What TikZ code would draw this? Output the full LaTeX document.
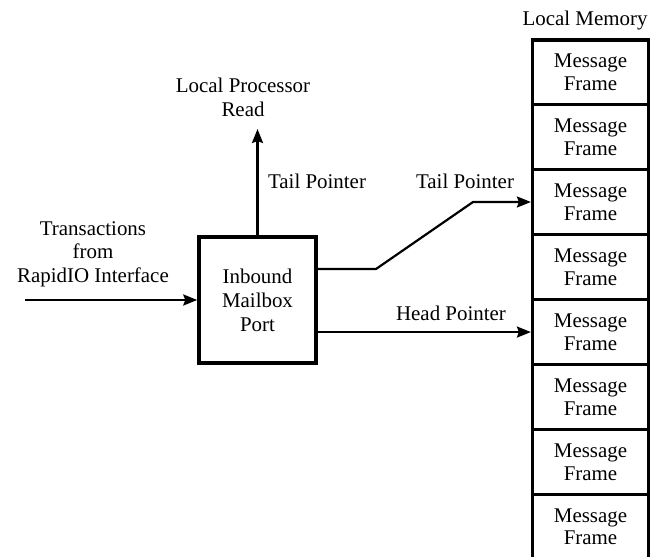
\documentclass[tikz,border=0pt]{standalone}
\usepackage{fontspec}
\setmainfont{Liberation Serif}
\usetikzlibrary{arrows.meta}
\begin{document}
\begin{tikzpicture}[x=1bp,y=-1bp,
  lbl/.style={font=\fontsize{21}{23.5}\selectfont, align=center, inner sep=0pt},
  portbox/.style={draw, line width=3.5bp, minimum width=117bp, minimum height=126bp,
    font=\fontsize{21}{24}\selectfont, align=center, inner sep=0pt},
  frame/.style={draw, line width=3.2bp, minimum width=116bp, minimum height=64.9bp,
    font=\fontsize{21}{23}\selectfont, align=center, inner sep=0pt},
  conn/.style={line width=2.2bp, -{Stealth[length=14bp,width=11bp,inset=2bp]}}]
  \useasboundingbox (0,0) rectangle (652,557);
  \clip (0,0) rectangle (652,557);

  % mailbox port
  \node[portbox] (port) at (257.5,300) {Inbound\\Mailbox\\Port};

  % local memory column of message frames
  \node[lbl] (memtitle) at (585,21) {Local Memory};
  \foreach \i in {1,...,8}{
    \node[frame] (f\i) at (590.5,{40+64.9*(\i-0.5)}) {Message\\Frame};
  }

  % inbound transactions
  \coordinate (src) at (25,300);
  \node[lbl] (trans) at (93,254) {Transactions\\from\\RapidIO Interface};
  \draw[conn] (src) -- (port.west);

  % read by the local processor
  \coordinate (lpr) at (257.5,129);
  \node[lbl] (lprlabel) at (243,97.5) {Local Processor\\Read};
  \node[lbl] (tpup) at (317,181) {Tail Pointer};
  \draw[conn] (port.north) -- (lpr);

  % tail pointer into memory
  \coordinate (tp1) at (376,269);
  \coordinate (tp2) at (473,202);
  \node[lbl] (tpright) at (465,181) {Tail Pointer};
  \draw[conn] (port.east |- tp1) -- (tp1) -- (tp2) -- (f3.west |- tp2);

  % head pointer into memory
  \node[lbl] (hp) at (451,313) {Head Pointer};
  \draw[conn] (port.east |- f5.west) -- (f5.west);
\end{tikzpicture}
\end{document}
